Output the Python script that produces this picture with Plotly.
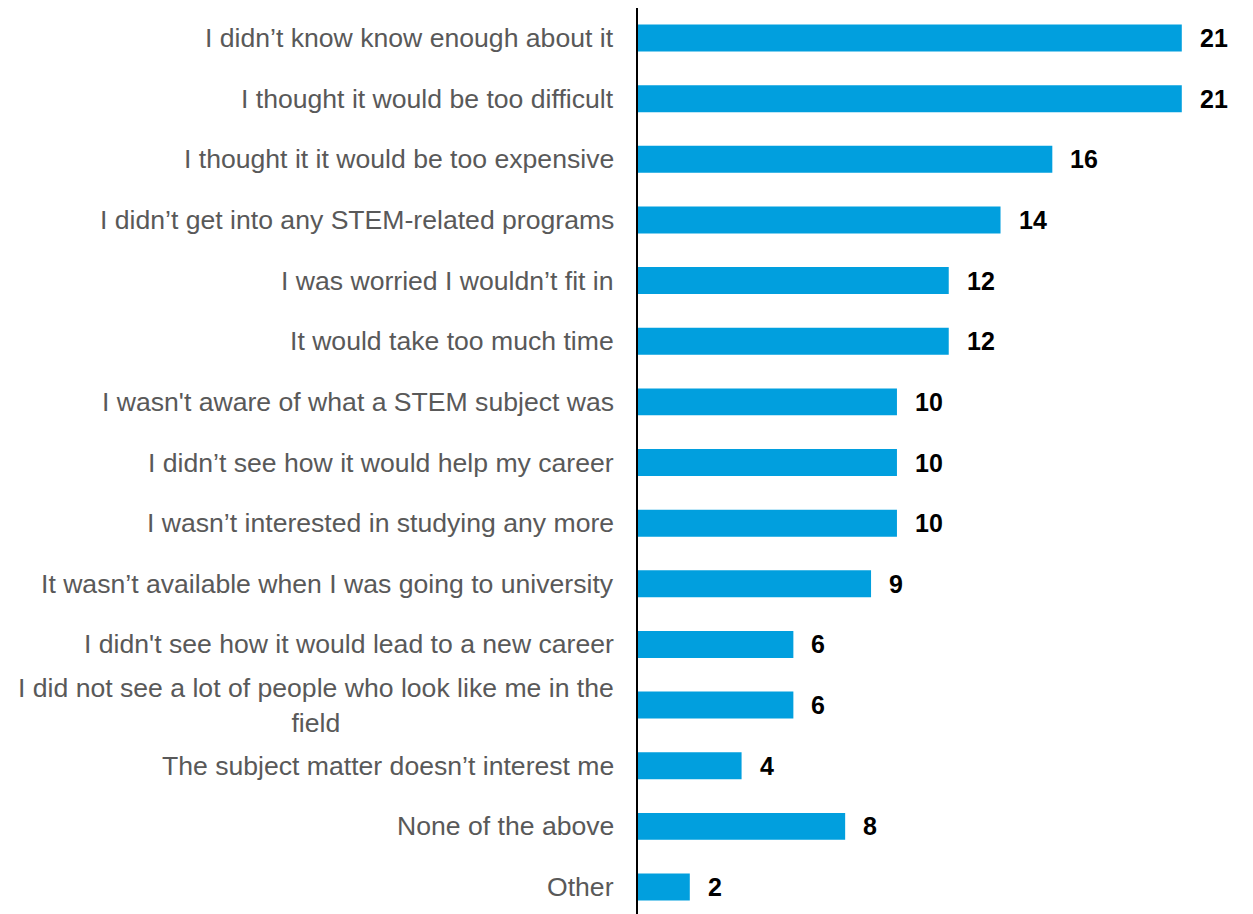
import plotly.graph_objects as go

# Survey responses: reasons for not pursuing a STEM subject (%)
reasons = [
    "I didn’t know know enough about it",
    "I thought it would be too difficult",
    "I thought it it would be too expensive",
    "I didn’t get into any STEM-related programs",
    "I was worried I wouldn’t fit in",
    "It would take too much time",
    "I wasn't aware of what a STEM subject was",
    "I didn’t see how it would help my career",
    "I wasn’t interested in studying any more",
    "It wasn’t available when I was going to university",
    "I didn't see how it would lead to a new career",
    "I did not see a lot of people who look like me in the<br>field",
    "The subject matter doesn’t interest me",
    "None of the above",
    "Other",
]
shares = [21, 21, 16, 14, 12, 12, 10, 10, 10, 9, 6, 6, 4, 8, 2]

FONT = "Liberation Sans, Arial, sans-serif"
BAR_COLOR = "#019FDE"

fig = go.Figure(
    go.Bar(
        x=shares,
        y=reasons,
        orientation="h",
        marker=dict(color=BAR_COLOR, line=dict(width=0)),
        hoverinfo="skip",
    )
)

annotations = []
# category labels, right-aligned against the axis, wrapped lines centred
for r in reasons:
    annotations.append(dict(
        x=0, y=r, xref="paper", yref="y",
        text=r, showarrow=False,
        xanchor="right", yanchor="middle", align="center",
        xshift=-22,
        font=dict(family=FONT, size=26.6, color="#595959"),
    ))
# value labels at the bar ends
for r, v in zip(reasons, shares):
    annotations.append(dict(
        x=v, y=r, xref="x", yref="y",
        text=f"<b>{v}</b>", showarrow=False,
        xanchor="left", yanchor="middle",
        xshift=16,
        font=dict(family=FONT, size=25, color="#000000"),
    ))

fig.update_layout(
    width=1253,
    height=914,
    margin=dict(l=638, r=0, t=8, b=0),
    paper_bgcolor="white",
    plot_bgcolor="white",
    showlegend=False,
    bargap=0.555,
    annotations=annotations,
    xaxis=dict(
        range=[0, 23.75],
        showgrid=False, zeroline=False, showline=False,
        showticklabels=False, ticks="",
    ),
    yaxis=dict(
        type="category",
        categoryorder="array",
        categoryarray=reasons,
        range=[14.445, -0.495],
        showgrid=False, zeroline=False,
        showline=True, linecolor="#000000", linewidth=2,
        showticklabels=False, ticks="",
    ),
)

fig.write_html("out.html")
